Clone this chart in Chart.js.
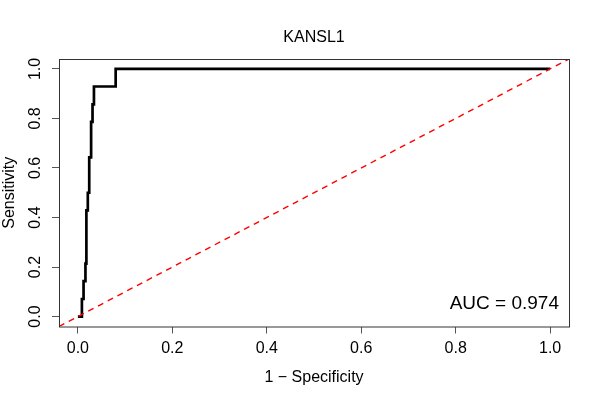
<!DOCTYPE html>
<html>
<head>
<meta charset="utf-8">
<script src="https://cdn.jsdelivr.net/npm/chart.js@4.4.1/dist/chart.umd.min.js"></script>
<style>
  html, body { margin: 0; padding: 0; background: #fff; }
  canvas { display: block; }
</style>
</head>
<body>
<canvas id="rocChart" width="600" height="400"></canvas>
<script>
// --- Data ---
const CHART_TITLE = 'KANSL1';
const AUC_LABEL = 'AUC = 0.974';

// ROC curve points (1 - specificity, sensitivity)
const FPR = [0, 0.0085, 0.0085, 0.012, 0.012, 0.016, 0.016, 0.018, 0.018, 0.021, 0.021,
             0.024, 0.024, 0.028, 0.028, 0.031, 0.031, 0.034, 0.034, 0.08, 0.08, 1.0];
const TPR = [0, 0, 0.071, 0.071, 0.143, 0.143, 0.214, 0.214, 0.429, 0.429, 0.5,
             0.5, 0.643, 0.643, 0.786, 0.786, 0.857, 0.857, 0.929, 0.929, 1.0, 1.0];

// reference diagonal
const DIAG = [-0.04, 1.04];

const AXIS_TICKS = [0, 0.2, 0.4, 0.6, 0.8, 1.0];

const FONT = '"Liberation Sans", Arial, Helvetica, sans-serif';
Chart.defaults.font.family = FONT;
Chart.defaults.color = '#000';

// --- Helpers ---
function setTicks(scale) {
    scale.ticks = AXIS_TICKS.map(v => ({ value: v }));
}

// box, title, rotated y labels and AUC text, R style
const rPlotExtras = {
    id: 'rPlotExtras',
    afterDraw(chart) {
        const { ctx, chartArea } = chart;
        const yScale = chart.scales.y;
        ctx.save();

        ctx.strokeStyle = '#333';
        ctx.lineWidth = 1;
        ctx.strokeRect(chartArea.left + 0.5, chartArea.top + 0.5,
                       chartArea.right - chartArea.left, chartArea.bottom - chartArea.top);

        ctx.fillStyle = '#000';
        ctx.textAlign = 'center';
        ctx.textBaseline = 'middle';
        ctx.font = '16px ' + FONT;
        ctx.fillText(CHART_TITLE, (chartArea.left + chartArea.right) / 2, 38);

        AXIS_TICKS.forEach(v => {
            ctx.save();
            ctx.translate(36, yScale.getPixelForValue(v));
            ctx.rotate(-Math.PI / 2);
            ctx.fillText(v.toFixed(1), 0, 0);
            ctx.restore();
        });

        ctx.font = '19px ' + FONT;
        ctx.textAlign = 'right';
        ctx.fillText(AUC_LABEL, chartArea.right - 10, 304);
        ctx.restore();
    }
};

// --- Chart ---
new Chart(document.getElementById('rocChart'), {
    type: 'scatter',
    data: {
        datasets: [
            {
                label: 'diagonal',
                data: DIAG.map(v => ({ x: v, y: v })),
                showLine: true,
                borderColor: '#ff0000',
                borderWidth: 1.4,
                borderDash: [6, 5],
                pointRadius: 0,
                order: 0
            },
            {
                label: 'ROC',
                data: FPR.map((x, i) => ({ x: x, y: TPR[i] })),
                showLine: true,
                borderColor: '#000',
                borderWidth: 2.7,
                pointRadius: 0,
                order: 1
            }
        ]
    },
    options: {
        responsive: false,
        animation: false,
        layout: { padding: { top: 59, right: 31, left: 0, bottom: 0 } },
        plugins: {
            legend: { display: false },
            tooltip: { enabled: false }
        },
        scales: {
            x: {
                type: 'linear',
                min: -0.04,
                max: 1.04,
                afterBuildTicks: setTicks,
                afterFit: s => { s.height = 73.5; },
                border: { display: false },
                grid: { drawOnChartArea: false, tickLength: 7, color: '#555' },
                ticks: {
                    font: { size: 16 },
                    padding: 5,
                    callback: v => v.toFixed(1)
                },
                title: {
                    display: true,
                    text: '1 \u2212 Specificity',
                    font: { size: 16 },
                    padding: { top: 0, bottom: 13 }
                }
            },
            y: {
                type: 'linear',
                min: -0.04,
                max: 1.04,
                afterBuildTicks: setTicks,
                afterFit: s => { s.width = 59; },
                border: { display: false },
                grid: { drawOnChartArea: false, tickLength: 7, color: '#555' },
                ticks: { display: false },
                title: {
                    display: true,
                    text: 'Sensitivity',
                    font: { size: 16 },
                    padding: 0
                }
            }
        }
    },
    plugins: [rPlotExtras]
});
</script>
</body>
</html>
